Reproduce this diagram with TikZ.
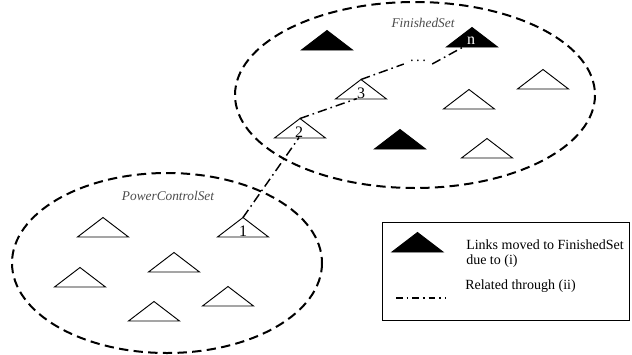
\documentclass[tikz,border=0pt]{standalone}
\usepackage{fontspec}
\setmainfont{Liberation Serif}
\usetikzlibrary{calc}

\tikzset{
	tri/.pic={
		\draw[pic actions, line width=0.7pt] (-25.5,0) -- (25.5,0) -- (0,-19.5) -- cycle;
		\coordinate (-apex) at (0,-19.5);
	},
	setborder/.style={line width=1.5pt, dash pattern=on 7pt off 4pt},
	related/.style={line width=1.1pt, dash pattern=on 7pt off 3pt on 1.2pt off 3pt},
	setname/.style={font=\fontsize{10}{12}\selectfont\itshape, text=black!70},
	linknum/.style={font=\fontsize{12}{14}\selectfont, inner sep=0pt},
	legtext/.style={font=\fontsize{10.5}{12}\selectfont, inner sep=0pt, anchor=base west},
}

\begin{document}
\begin{tikzpicture}[x=0.75pt, y=-0.75pt]
			%%%%% START %%%%%
			\useasboundingbox (0,0) rectangle (632,354);
			
			% the two sets
			\draw[setborder] (415,95) ellipse [x radius=180, y radius=93];
			\draw[setborder] (167,263) ellipse [x radius=155, y radius=90];
			\node[setname] (finname) at (423,23) {FinishedSet};
			\node[setname] (pcname) at (168,196) {PowerControlSet};
			
			% FinishedSet
			\pic[fill=black] (f1) at (327,50) {tri};
			\pic[fill=black] (fn) at (472,47) {tri};
			\pic (f3) at (361,99) {tri};
			\pic (fr) at (543,89) {tri};
			\pic (fm) at (469,109) {tri};
			\pic (f2) at (300,138) {tri};
			\pic[fill=black] (fb) at (400,149) {tri};
			\pic (fbr) at (487,158) {tri};
			
			% PowerControlSet
			\pic (p1) at (243,237) {tri};
			\pic (pa) at (103,237) {tri};
			\pic (pb) at (174,272) {tri};
			\pic (pc) at (80,287) {tri};
			\pic (pd) at (228,306) {tri};
			\pic (pe) at (154,321) {tri};
			
			\node[linknum] (n1) at (243,231) {1};
			\node[linknum] (n2) at (299,132) {2};
			\node[linknum] (n3) at (361,93) {3};
			\node[linknum, text=white] (nn) at (471,41) {n};
			\node[inner sep=0pt, font=\fontsize{11}{12}\selectfont] (dots) at (418,61) {.\,.\,.};
			
			% chain of related links
			\draw[related] (p1-apex) -- (n2.south);
			\draw[related] (f2-apex) -- (n3.south west);
			\draw[related] (f3-apex) -- ($(dots.west)+(-6,3)$);
			\draw[related] ($(dots.east)+(6,3)$) -- (nn.south west);
			
			% legend
			\node[draw, line width=0.8pt, minimum width=185pt, minimum height=73.5pt] (legend) at (506,271.7) {};
			\pic[fill=black] (legtri) at (417.5,252) {tri};
			\node[legtext] (legfin1) at (466,249) {Links moved to FinishedSet};
			\node[legtext] (legfin2) at (466,264.5) {due to (i)};
			\coordinate (legl) at (396,298);
			\coordinate (legr) at (445,298);
			\draw[related, dash pattern=on 5pt off 3pt on 1.2pt off 3pt] (legl) -- (legr);
			\node[legtext] (legrel) at (465,289) {Related through (ii)};
			
			%%%%% END %%%%%
\end{tikzpicture}
\end{document}
